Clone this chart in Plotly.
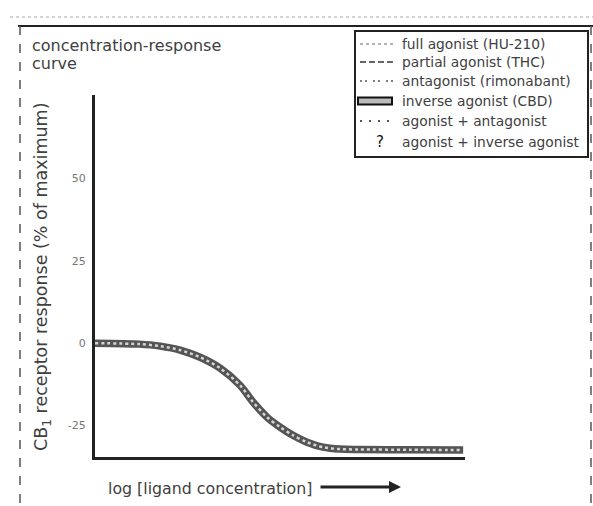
import plotly.graph_objects as go

# ---- data ----
log_conc = [0.0, 1.2, 1.76, 2.3, 2.84, 3.38, 3.92, 4.27, 4.65, 5.0, 5.35, 5.73, 6.16, 6.62, 7.16, 8.5, 9.95]
inverse_agonist_cbd = [0.0, -0.3, -0.9, -2.1, -4.3, -7.6, -12.8, -17.9, -22.5, -25.5, -28.0, -30.1,
                       -31.6, -32.2, -32.3, -32.4, -32.5]
y_tick_vals = [-25, 0, 25, 50]
y_tick_text = ["-25", "0", "25", "50"]
legend_labels = [
    "full agonist (HU-210)",
    "partial agonist (THC)",
    "antagonist (rimonabant)",
    "inverse agonist (CBD)",
    "agonist + antagonist",
    "agonist + inverse agonist",
]

W, H = 593, 506
L, R, T, B = 95, 465, 95, 457  # plot area in pixels

def px(x):
    return (x - L) / (R - L)

def py(y):
    return (B - y) / (B - T)

FONT = "DejaVu Sans, Verdana, sans-serif"
TXT = "#404040"

fig = go.Figure()
fig.add_trace(go.Scatter(x=log_conc, y=inverse_agonist_cbd, mode="lines",
                         line=dict(color="#555555", width=7.5, shape="spline", smoothing=0.8),
                         hoverinfo="skip", showlegend=False))
fig.add_trace(go.Scatter(x=log_conc, y=inverse_agonist_cbd, mode="lines",
                         line=dict(color="#d4d4d4", width=2.5, shape="spline", smoothing=0.8, dash="dot"),
                         name=legend_labels[3], showlegend=False))

shapes = []
annotations = []

def ann(x, y, text, size, color=TXT, xanchor="left", **kw):
    d = dict(xref="paper", yref="paper", x=px(x), y=py(y), text=text, xanchor=xanchor,
             yanchor="middle", showarrow=False, font=dict(family=FONT, size=size, color=color))
    d.update(kw)
    annotations.append(d)

# outer frame (scanned page)
shapes.append(dict(type="line", xref="paper", yref="paper", x0=px(18), x1=px(593), y0=py(26), y1=py(26),
                   line=dict(color="#222", width=2)))
shapes.append(dict(type="line", xref="paper", yref="paper", x0=px(20), x1=px(20), y0=py(26), y1=py(506),
                   line=dict(color="#555", width=1.5, dash="dash")))
shapes.append(dict(type="line", xref="paper", yref="paper", x0=px(591), x1=px(591), y0=py(26), y1=py(506),
                   line=dict(color="#555", width=1.5, dash="dash")))
shapes.append(dict(type="line", xref="paper", yref="paper", x0=px(10), x1=px(593), y0=py(17), y1=py(17),
                   line=dict(color="#aaa", width=1, dash="dot")))

# legend box
shapes.append(dict(type="rect", xref="paper", yref="paper", x0=px(355), x1=px(588), y0=py(31), y1=py(157),
                   line=dict(color="#222", width=2), fillcolor="rgba(0,0,0,0)"))
rows = [44, 62, 81, 101, 121, 142]
sym_x0, sym_x1 = 360, 394
styles = [
    dict(color="#999", width=1.5, dash="dot"),
    dict(color="#333", width=1.5, dash="6px,3px"),
    dict(color="#555", width=1.5, dash="2px,3px,2px,6px"),
    None,
    dict(color="#555", width=2, dash="2px,7px"),
    "?",
]
for ry, st, lab in zip(rows, styles, legend_labels):
    if st is None:
        shapes.append(dict(type="rect", xref="paper", yref="paper", x0=px(358), x1=px(392),
                           y0=py(ry - 3.5), y1=py(ry + 3.5), line=dict(color="#111", width=2),
                           fillcolor="#bbb"))
    elif st == "?":
        ann(380, ry, "?", 15, color="#111", xanchor="center")
    else:
        shapes.append(dict(type="line", xref="paper", yref="paper", x0=px(sym_x0), x1=px(sym_x1),
                           y0=py(ry), y1=py(ry), line=st))
    ann(400, ry, lab, 13.8)

# title block
ann(30, 45, "concentration-response", 16)
ann(30, 63, "curve", 16)

# y-axis title
ann(42, 277, "CB<sub>1</sub> receptor response (% of maximum)", 17.5, xanchor="center", textangle=-90)

# x-axis title with arrow
ann(106, 488, "log [ligand concentration]", 15.8)
annotations.append(dict(xref="paper", yref="paper", x=px(401), y=py(487), ax=-82, ay=0,
                        text="", showarrow=True, arrowhead=2,
                        arrowsize=0.8, arrowwidth=3, arrowcolor="#222"))

fig.update_layout(
    width=W, height=H,
    margin=dict(l=L, r=W - R, t=T, b=H - B, pad=0),
    paper_bgcolor="white", plot_bgcolor="white",
    shapes=shapes, annotations=annotations,
    xaxis=dict(range=[0, 10], showgrid=False, zeroline=False, showticklabels=False, ticks="",
               showline=True, linewidth=3, linecolor="#222"),
    yaxis=dict(range=[-34.6, 75.4], showgrid=False, zeroline=False, tickvals=y_tick_vals,
               ticktext=y_tick_text, ticks="", ticklabelstandoff=4,
               tickfont=dict(family=FONT, size=11, color="#777"),
               showline=True, linewidth=3, linecolor="#222"),
)

fig.write_html("out.html", post_script="document.body.style.margin='0';",
               config={"displayModeBar": False})
